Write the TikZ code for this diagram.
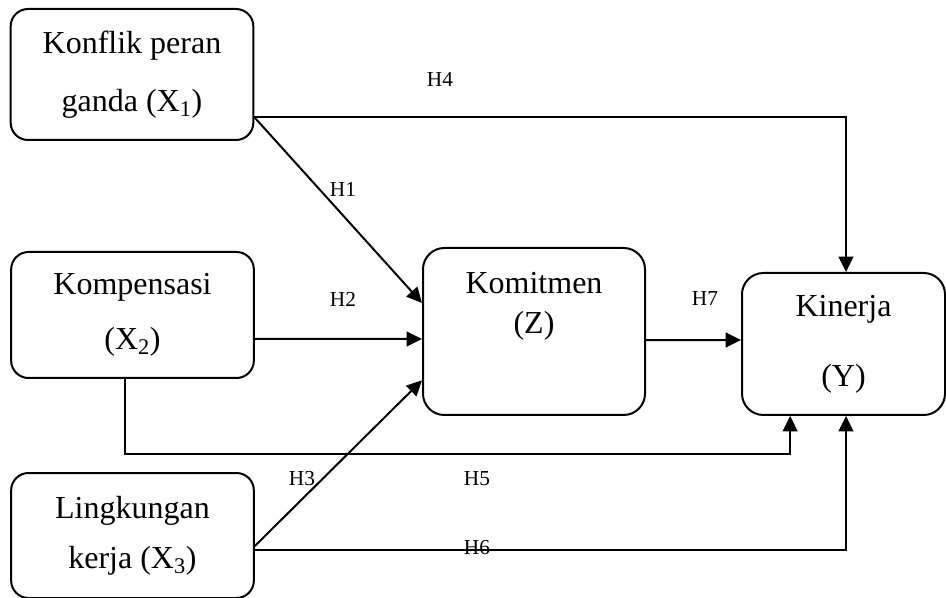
\documentclass[tikz,border=0pt]{standalone}
\usepackage{fontspec}
\setmainfont{Liberation Serif}
\usetikzlibrary{arrows.meta}

\begin{document}
\begin{tikzpicture}[
	x=0.75pt, y=-0.75pt,
	>={Triangle[length=11.5pt,width=11pt]},
	% Styles for the variable boxes
	varbox/.style={draw=black, line width=1.5pt, rounded corners=13pt, inner sep=0pt},
	bigbox/.style={varbox, rounded corners=16pt},
	% Styles for text and hypothesis labels
	vartext/.style={font=\fontsize{24}{29}\selectfont, align=center, inner sep=0pt},
	hyplabel/.style={font=\fontsize{16}{19}\selectfont, inner sep=1pt},
	path/.style={->, line width=1.5pt}
	]
	
	% NOTE: one unit is one pixel of the 946 x 598 frame, y runs downwards.
	\useasboundingbox (0,0) rectangle (946,598);
	
	% ==========================================
	% INDEPENDENT VARIABLES (X1, X2, X3)
	% ==========================================
	\node[varbox, minimum width=182pt, minimum height=98.25pt] (x1) at (132,74.5) {};
	\node[vartext] (x1txt) at (x1) {Konflik peran\\[14.5pt]ganda (X\textsubscript{1})};
	
	\node[varbox, minimum width=182pt, minimum height=94.5pt] (x2) at (132.5,315) {};
	\node[vartext] (x2txt) at (x2) {Kompensasi\\[12pt](X\textsubscript{2})};
	
	\node[varbox, minimum width=182pt, minimum height=93.75pt] (x3) at (132.5,535.5) {};
	\node[vartext] (x3txt) at (x3) {Lingkungan\\[8.5pt]kerja (X\textsubscript{3})};
	
	% ==========================================
	% MEDIATOR (Z) AND OUTCOME (Y)
	% ==========================================
	\node[bigbox, minimum width=166.5pt, minimum height=125.25pt] (z) at (534,331.5) {};
	\node[vartext] (ztxt) at ([yshift=19pt]z.center) {Komitmen\\[1pt](Z)};
	
	\node[bigbox, minimum width=152.25pt, minimum height=106.5pt] (y) at (843.5,344) {};
	\node[vartext] (ytxt) at (y) {Kinerja\\[23.5pt](Y)};
	
	% ==========================================
	% HYPOTHESIS PATHS
	% ==========================================
	% H4: X1 over the top to Y
	\draw[path] ([yshift=-32pt]x1.east) -| ([xshift=1.9pt]y.north);
	% H1: X1 to Z
	\draw[path] ([yshift=-32pt]x1.east) -- ([yshift=21.4pt]z.west);
	% H2: X2 to Z
	\draw[path] ([yshift=-18pt]x2.east) -- ([yshift=-5.6pt]z.west);
	% H7: Z to Y
	\draw[path] ([yshift=-6.4pt]z.east) -- ([yshift=3pt]y.west);
	% H5: X2 under Z to Y
	\draw[path] ([xshift=-5.6pt]x2.south) |- ([xshift=-40pt,yshift=-28.5pt]y.south) -- ([xshift=-40pt]y.south);
	% H3: X3 to Z
	\draw[path] ([yshift=-7.9pt]x3.east) -- ([yshift=-36.6pt]z.west);
	% H6: X3 along the bottom to Y
	\draw[path] ([yshift=-10.9pt]x3.east) -| ([xshift=1.9pt]y.south);
	
	% Hypothesis labels
	\node[hyplabel] (h4) at (440,79) {H4};
	\node[hyplabel] (h1) at (343,189) {H1};
	\node[hyplabel] (h2) at (343,299) {H2};
	\node[hyplabel] (h7) at (705,299) {H7};
	\node[hyplabel] (h3) at (302,479) {H3};
	\node[hyplabel] (h5) at (477,479) {H5};
	\node[hyplabel] (h6) at (477,548) {H6};
	
\end{tikzpicture}
\end{document}
